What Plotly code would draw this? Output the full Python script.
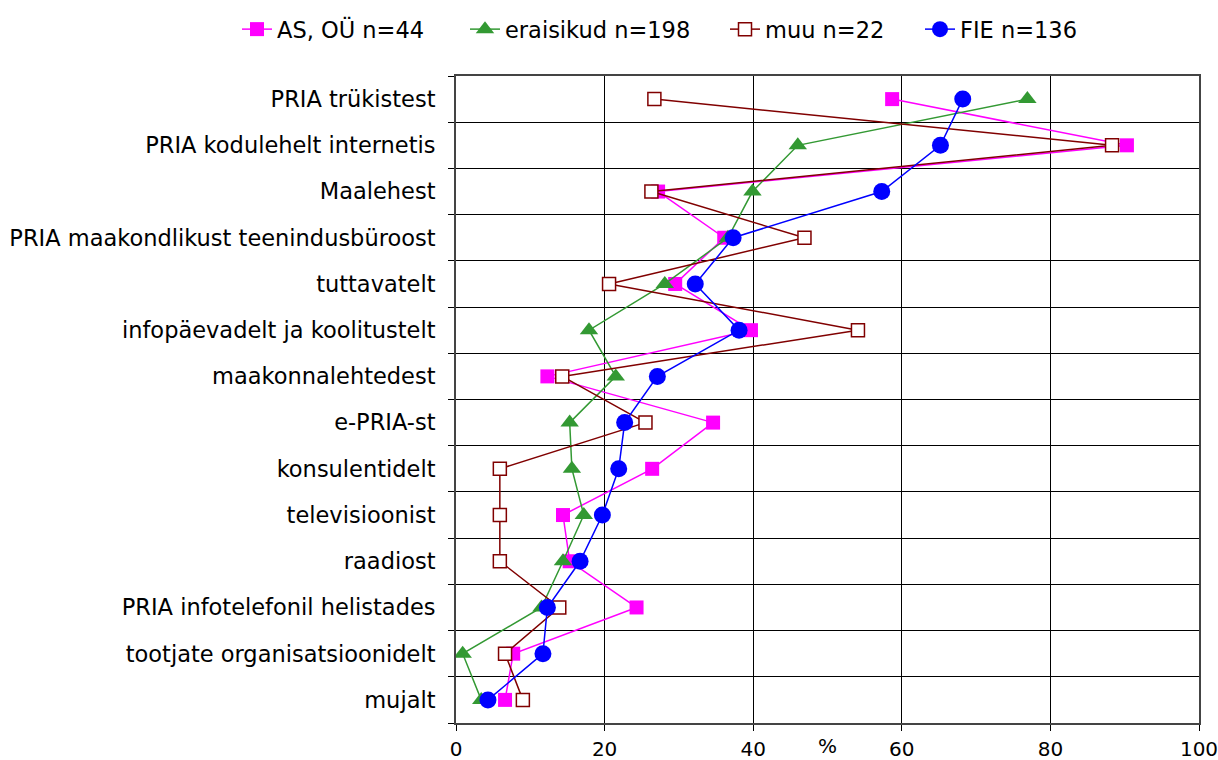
import plotly.graph_objects as go

categories = [
    "PRIA trükistest",
    "PRIA kodulehelt internetis",
    "Maalehest",
    "PRIA maakondlikust teenindusbüroost",
    "tuttavatelt",
    "infopäevadelt ja koolitustelt",
    "maakonnalehtedest",
    "e-PRIA-st",
    "konsulentidelt",
    "televisioonist",
    "raadiost",
    "PRIA infotelefonil helistades",
    "tootjate organisatsioonidelt",
    "mujalt",
]

as_ou = [58.7, 90.3, 27.2, 36.1, 29.5, 39.7, 12.3, 34.6, 26.4, 14.4, 15.3, 24.3, 7.7, 6.6]
eraisikud = [76.9, 46.0, 39.9, 36.6, 28.1, 17.9, 21.5, 15.3, 15.6, 17.2, 14.4, 11.5, 0.9, 3.4]
muu = [26.7, 88.3, 26.3, 46.9, 20.6, 54.1, 14.3, 25.5, 5.9, 5.9, 5.9, 13.9, 6.6, 9.0]
fie = [68.2, 65.2, 57.3, 37.3, 32.2, 38.1, 27.1, 22.7, 21.9, 19.7, 16.7, 12.3, 11.7, 4.3]

x_ticks = [0, 20, 40, 60, 80, 100]

series_names = ["AS, OÜ n=44", "eraisikud n=198", "muu n=22", "FIE n=136"]

ypos = list(range(len(categories)))

W, H = 1218, 760

fig = go.Figure()

fig.add_trace(go.Scatter(
    x=as_ou, y=ypos, mode="lines+markers", name=series_names[0], legend="legend",
    line=dict(color="#FF00FF", width=1.5),
    marker=dict(symbol="square", size=14, color="#FF00FF"),
))
fig.add_trace(go.Scatter(
    x=eraisikud, y=ypos, mode="lines+markers", name=series_names[1], legend="legend2",
    line=dict(color="#339933", width=1.5),
    marker=dict(symbol="triangle-up", size=16, color="#339933"),
))
fig.add_trace(go.Scatter(
    x=muu, y=ypos, mode="lines+markers", name=series_names[2], legend="legend3",
    line=dict(color="#800000", width=1.5),
    marker=dict(symbol="square", size=13, color="white",
                line=dict(color="#800000", width=1.5)),
))
fig.add_trace(go.Scatter(
    x=fie, y=ypos, mode="lines+markers", name=series_names[3], legend="legend4",
    line=dict(color="#0000FF", width=1.5),
    marker=dict(symbol="circle", size=17, color="#0000FF"),
))

boundaries = [i + 0.5 for i in range(-1, len(categories))]


def leg(xpix):
    return dict(orientation="h", x=xpix / W, y=1.0 - 8 / H, xref="container", yref="container",
                xanchor="left", yanchor="top", font=dict(size=22.5),
                bgcolor="rgba(0,0,0,0)", itemwidth=30)


fig.update_layout(
    width=W, height=H,
    margin=dict(l=456, r=19, t=76, b=37, autoexpand=False),
    paper_bgcolor="white", plot_bgcolor="white",
    font=dict(family="DejaVu Sans", size=20, color="black"),
    showlegend=True,
    legend=leg(237),
    legend2=leg(465),
    legend3=leg(725),
    legend4=leg(920),
    xaxis=dict(
        range=[0, 100], tickvals=x_ticks, ticktext=[str(v) for v in x_ticks],
        showgrid=True, gridcolor="black", gridwidth=1,
        zeroline=False, showline=True, linecolor="#444", linewidth=2, mirror=True,
        ticks="outside", ticklen=6, tickcolor="black", ticklabelstandoff=1,
        tickfont=dict(size=20), automargin=False, ticklabeloverflow="allow",
    ),
    yaxis=dict(
        range=[len(categories) - 0.5, -0.5],
        tickvals=ypos, ticktext=categories,
        showgrid=False, zeroline=False,
        showline=True, linecolor="#444", linewidth=2, mirror=True,
        ticks="", tickfont=dict(size=22.5), ticklabelstandoff=14, automargin=False,
        minor=dict(tickvals=boundaries, showgrid=True, gridcolor="black",
                   gridwidth=1, ticks="outside", ticklen=6, tickcolor="black"),
    ),
)

fig.add_annotation(x=50, y=0, xref="x", yref="paper", text="%",
                   showarrow=False, yshift=-37, font=dict(size=20))

fig.write_html(
    "out.html",
    config={"displayModeBar": False},
    post_script="document.body.style.margin='0';document.body.style.overflow='hidden';",
)
